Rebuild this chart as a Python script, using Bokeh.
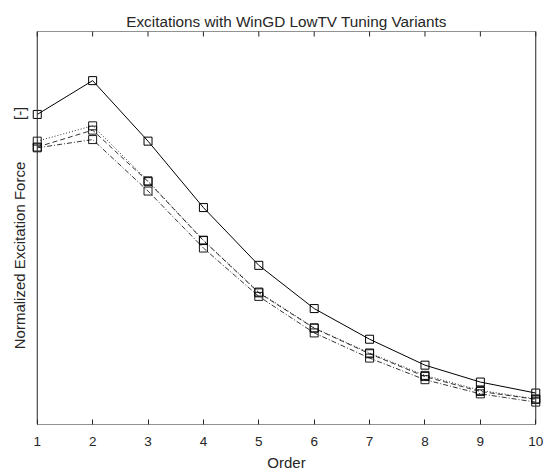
import math
from bokeh.plotting import figure
from bokeh.models import Range1d, FixedTicker, BoxAnnotation, ColumnDataSource
from bokeh.embed import file_html
from bokeh.resources import INLINE

# Data (normalized excitation)
order = [1, 2, 3, 4, 5, 6, 7, 8, 9, 10]
base = [0.789, 0.875, 0.721, 0.552, 0.405, 0.295, 0.217, 0.151, 0.108, 0.080]
variant_a = [0.721, 0.760, 0.620, 0.469, 0.337, 0.246, 0.182, 0.125, 0.087, 0.065]
variant_b = [0.706, 0.749, 0.618, 0.468, 0.335, 0.245, 0.180, 0.122, 0.084, 0.064]
variant_c = [0.704, 0.725, 0.594, 0.449, 0.326, 0.233, 0.169, 0.114, 0.078, 0.057]
x_ticks = [1, 2, 3, 4, 5, 6, 7, 8, 9, 10]
title_text = "Excitations with WinGD LowTV Tuning Variants"

FONT = "Liberation Sans"
TXT = "#262626"
# frame is slightly wider than the box on each side so edge markers are not clipped
FW = 510
FH = 393
pad_px = 5.75
pad = pad_px * 9 / (FW - 2 * pad_px)

p = figure(width=545, height=474, frame_width=FW, frame_height=FH,
           x_range=Range1d(1 - pad, 10 + pad), y_range=Range1d(0, 1),
           output_backend="svg", toolbar_location=None,
           min_border_left=31, min_border_right=4, min_border_top=31, min_border_bottom=48,
           x_axis_location="below")
p.outline_line_color = None
p.grid.visible = False
p.background_fill_color = "white"
p.border_fill_color = "white"

p.title.text = title_text
p.title.align = "center"
p.title.vertical_align = "top"
p.title.offset = 4
p.title.text_font = FONT
p.title.text_font_size = "15.3px"
p.title.text_font_style = "normal"
p.title.text_color = TXT
p.title.standoff = 0

xa = p.xaxis[0]
xa.ticker = FixedTicker(ticks=x_ticks)
xa.axis_line_color = None
xa.major_tick_in = 5
xa.major_tick_out = 0
xa.minor_tick_line_color = None
xa.major_tick_line_color = TXT
xa.major_label_text_font = FONT
xa.major_label_text_font_size = "13.5px"
xa.major_label_text_color = TXT
xa.major_label_standoff = 12
xa.axis_label = "Order"
xa.axis_label_text_font = FONT
xa.axis_label_text_font_size = "15px"
xa.axis_label_text_font_style = "normal"
xa.axis_label_text_color = TXT
xa.axis_label_standoff = 5

ya = p.yaxis[0]
ya.ticker = FixedTicker(ticks=[])
ya.axis_line_color = None
ya.major_tick_line_color = None
ya.minor_tick_line_color = None
ya.major_label_standoff = 0
ya.axis_label = "Normalized Excitation Force" + "\u00a0" * 10 + "[-]"
ya.axis_label_text_font = FONT
ya.axis_label_text_font_size = "15px"
ya.axis_label_text_font_style = "normal"
ya.axis_label_text_color = TXT
ya.axis_label_standoff = 4

box = BoxAnnotation(left=1, right=10, bottom=0, top=1, fill_color=None, fill_alpha=0,
                    line_color=TXT, line_alpha=1, line_width=1, level="overlay")
p.add_layout(box)

# top inward ticks: vertical dashes centred on the top edge, clipped by the frame
tick_src = ColumnDataSource(dict(x=x_ticks, y=[1] * len(x_ticks)))
p.scatter("x", "y", source=tick_src, marker="dash", size=10, angle=math.pi / 2,
          line_color=TXT, line_width=1)

src = ColumnDataSource(dict(x=order, base=base, a=variant_a, b=variant_b, c=variant_c))

styles = [("a", "1 2"), ("b", "5 3"), ("c", "5 2 1 2")]
for col, dash in styles:
    p.line("x", col, source=src, line_color="black", line_width=0.8, line_dash=dash)
    p.scatter("x", col, source=src, marker="square", size=8, fill_color=None,
              line_color="black", line_width=0.9)

p.line("x", "base", source=src, line_color="black", line_width=1)
p.scatter("x", "base", source=src, marker="square", size=8, fill_color=None,
          line_color="black", line_width=1)

open("out.html", "w").write(file_html(p, INLINE))
